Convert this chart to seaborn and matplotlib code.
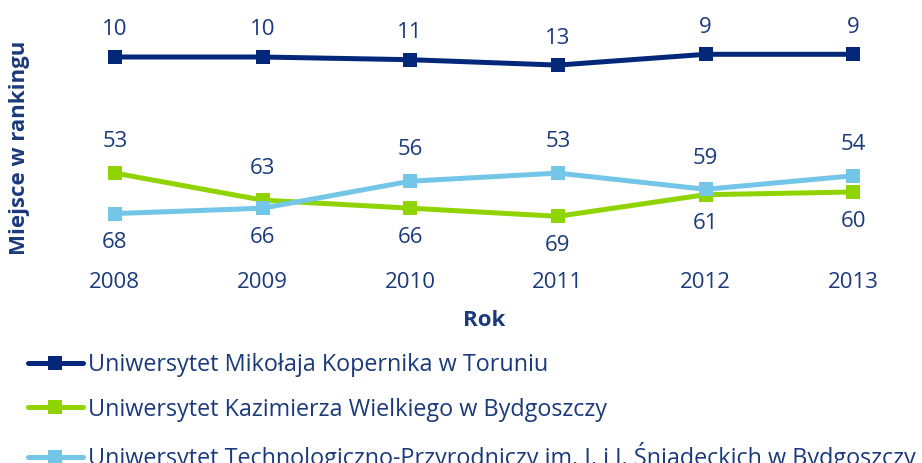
import numpy as np
import pandas as pd
import matplotlib
matplotlib.use("Agg")
import matplotlib.pyplot as plt
import seaborn as sns

# ── Data ──────────────────────────────────────────────────
years = [2008, 2009, 2010, 2011, 2012, 2013]
umk  = [10, 10, 11, 13, 9, 9]
ukw  = [53, 63, 66, 69, 61, 60]
utp  = [68, 66, 56, 53, 59, 54]

names = [
    "Uniwersytet Mikołaja Kopernika w Toruniu",
    "Uniwersytet Kazimierza Wielkiego w Bydgoszczy",
    "Uniwersytet Technologiczno-Przyrodniczy im. J. i J. Śniadeckich w Bydgoszczy",
]
# label position: +1 above the point, -1 below
umk_pos = [1, 1, 1, 1, 1, 1]
ukw_pos = [1, 1, -1, -1, -1, -1]
utp_pos = [-1, -1, 1, 1, 1, 1]

NAVY  = "#03287A"
GREEN = "#8FD400"
LBLUE = "#73C6E7"
TEXT  = "#1A3A7C"

sns.set_style("white")
plt.rcParams["font.family"] = ["Open Sans", "DejaVu Sans"]

df = pd.DataFrame({
    "Rok": years * 3,
    "Miejsce": umk + ukw + utp,
    "Uczelnia": [names[0]] * 6 + [names[1]] * 6 + [names[2]] * 6,
})

fig = plt.figure(figsize=(9.22, 4.63), dpi=100)
ax = fig.add_axes([41 / 922, 1 - 246 / 463, 886 / 922, 216 / 463])

sns.lineplot(
    data=df, x="Rok", y="Miejsce", hue="Uczelnia",
    palette=[NAVY, GREEN, LBLUE], style="Uczelnia",
    markers=["s", "s", "s"], dashes=False,
    linewidth=3.6, markersize=10, markeredgewidth=0, ax=ax,
)

ax.set_xlim(2007.5, 2013.5)
ax.set_ylim(80, 0)
ax.set_yticks([])
ax.set_xticks(years)
ax.set_xticklabels([str(y) for y in years])
ax.tick_params(axis="x", length=0, pad=19, labelsize=16, labelcolor=TEXT)
for s in ax.spines.values():
    s.set_visible(False)
ax.set_xlabel("")
ax.set_ylabel("")

# ── Data labels ──────────────────────────────────────────
for vals, pos, up in [(umk, umk_pos, 19.5), (ukw, ukw_pos, 22.5), (utp, utp_pos, 22.5)]:
    for x, v, p in zip(years, vals, pos):
        ax.annotate(
            str(v), (x, v), textcoords="offset points",
            xytext=(0, up if p > 0 else -21), ha="center", va="center",
            fontsize=16, color=TEXT,
        )

fig.text(20 / 922, 1 - 148 / 463, "Miejsce w rankingu", rotation=90,
         ha="center", va="center", fontsize=16, fontweight="bold", color=TEXT)
fig.text(484 / 922, 1 - 320 / 463, "Rok", ha="center", va="center",
         fontsize=16, fontweight="bold", color=TEXT)

# ── Legend ───────────────────────────────────────────────
handles, labels = ax.get_legend_handles_labels()
ax.get_legend().remove()
leg = fig.legend(
    handles, labels, loc="upper left", bbox_to_anchor=(28 / 922, 1 - 353 / 463),
    frameon=False, fontsize=16.8, labelspacing=0.88, handlelength=2.35,
    handletextpad=0.2, borderaxespad=0, borderpad=0,
)
for t in leg.get_texts():
    t.set_color(TEXT)

fig.savefig("out.png", dpi=100)
